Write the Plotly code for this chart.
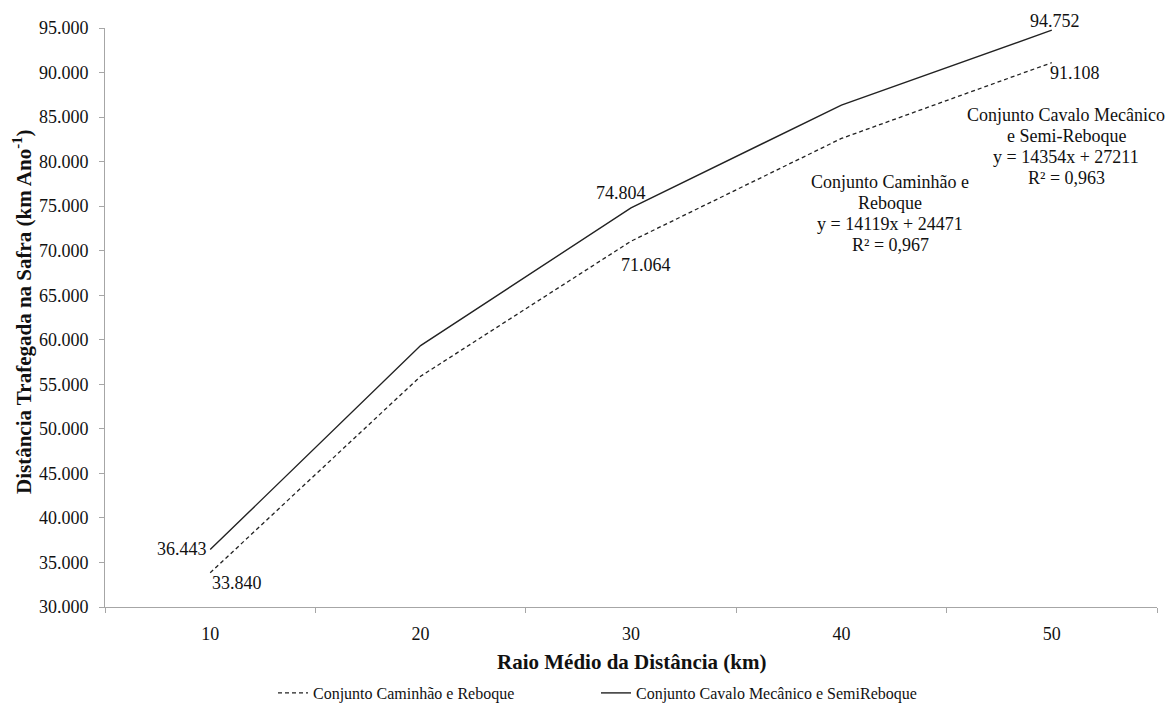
import plotly.graph_objects as go

raio = [10, 20, 30, 40, 50]
caminhao = [33840, 55900, 71064, 82600, 91108]
cavalo = [36443, 59350, 74804, 86350, 94752]
y_ticks = list(range(30000, 95001, 5000))

eq_caminhao = ["Conjunto Caminhão e", "Reboque", "y = 14119x + 24471", "R² = 0,967"]
eq_cavalo = ["Conjunto Cavalo Mecânico", "e Semi-Reboque", "y = 14354x + 27211", "R² = 0,963"]

FONT = "Times New Roman, Liberation Serif, serif"
AXIS_GRAY = "#a6a6a6"
INK = "#111111"

# plot area in pixels (used to place free text in paper coordinates)
W, H = 1168, 707
L, R, T, B = 105, 11, 28, 100
PW, PH = W - L - R, H - T - B


def px_x(x):
    return (x - L) / PW


def px_y(y):
    return (H - B - y) / PH


fig = go.Figure()
fig.add_trace(go.Scatter(
    x=raio, y=caminhao, mode="lines", name="Conjunto Caminhão e Reboque",
    line=dict(color="#222222", width=1.3, dash="4px,3px"),
))
fig.add_trace(go.Scatter(
    x=raio, y=cavalo, mode="lines", name="Conjunto Cavalo Mecânico e SemiReboque",
    line=dict(color="#222222", width=1.4),
))


def fmt(v):
    return f"{v:,}".replace(",", ".")


lab_font = dict(family=FONT, size=18, color=INK)
# value labels at the first, middle and last points
fig.add_annotation(x=raio[0], y=cavalo[0], text=fmt(cavalo[0]), showarrow=False,
                   xanchor="right", yanchor="middle", xshift=-1, yshift=1, font=lab_font)
fig.add_annotation(x=raio[0], y=caminhao[0], text=fmt(caminhao[0]), showarrow=False,
                   xanchor="left", yanchor="top", xshift=0, yshift=2, font=lab_font)
fig.add_annotation(x=raio[2], y=cavalo[2], text=fmt(cavalo[2]), showarrow=False,
                   xanchor="center", yanchor="bottom", xshift=-10, yshift=3, font=lab_font)
fig.add_annotation(x=raio[2], y=caminhao[2], text=fmt(caminhao[2]), showarrow=False,
                   xanchor="center", yanchor="top", xshift=15, yshift=-12, font=lab_font)
fig.add_annotation(x=raio[4], y=cavalo[4], text=fmt(cavalo[4]), showarrow=False,
                   xanchor="center", yanchor="bottom", xshift=3, yshift=-3, font=lab_font)
fig.add_annotation(x=raio[4], y=caminhao[4], text=fmt(caminhao[4]), showarrow=False,
                   xanchor="center", yanchor="top", xshift=23, yshift=2, font=lab_font)

# regression equation blocks, one line at a time
for lines, cx, first_y in ((eq_caminhao, 890, 182), (eq_cavalo, 1066, 115)):
    for i, line in enumerate(lines):
        fig.add_annotation(xref="paper", yref="paper", x=px_x(cx), y=px_y(first_y + 21 * i),
                           text=line, showarrow=False, xanchor="center", yanchor="middle",
                           font=lab_font)

# axis titles
fig.add_annotation(xref="paper", yref="paper", x=px_x(632), y=px_y(662),
                   text="<b>Raio Médio da Distância (km)</b>", showarrow=False,
                   xanchor="center", yanchor="middle", font=dict(family=FONT, size=21, color=INK))
fig.add_annotation(xref="paper", yref="paper", x=px_x(22), y=px_y(312),
                   text="<b>Distância Trafegada na Safra (km Ano<sup>-1</sup>)</b>", showarrow=False,
                   textangle=-90, xanchor="center", yanchor="middle",
                   font=dict(family=FONT, size=21, color=INK))

fig.update_layout(
    width=W, height=H,
    margin=dict(l=L, r=R, t=T, b=B, autoexpand=False),
    paper_bgcolor="white", plot_bgcolor="white",
    separators=",.",
    font=dict(family=FONT, size=18, color=INK),
    showlegend=True,
    legend=dict(orientation="h", x=px_x(273), xanchor="left", yref="container",
                y=(H - 693) / H, yanchor="middle",
                font=dict(family=FONT, size=16, color=INK), entrywidth=278,
                itemwidth=30),
    xaxis=dict(
        range=[5, 55], tickvals=raio, ticktext=[str(v) for v in raio],
        ticks="", showgrid=False, zeroline=False, automargin=False,
        showline=True, linecolor=AXIS_GRAY, linewidth=1,
        tickfont=dict(family=FONT, size=18, color=INK), ticklabelstandoff=10,
        minor=dict(tickvals=[5, 15, 25, 35, 45, 55], ticks="outside", ticklen=5,
                   tickcolor=AXIS_GRAY, showgrid=False),
    ),
    yaxis=dict(
        range=[30000, 95000], tickvals=y_ticks, tickformat=",.0f",
        ticks="outside", ticklen=5, tickcolor=AXIS_GRAY,
        showgrid=False, zeroline=False, automargin=False,
        showline=True, linecolor=AXIS_GRAY, linewidth=1,
        tickfont=dict(family=FONT, size=18, color=INK), ticklabelstandoff=7,
    ),
)

fig.write_html("out.html")
